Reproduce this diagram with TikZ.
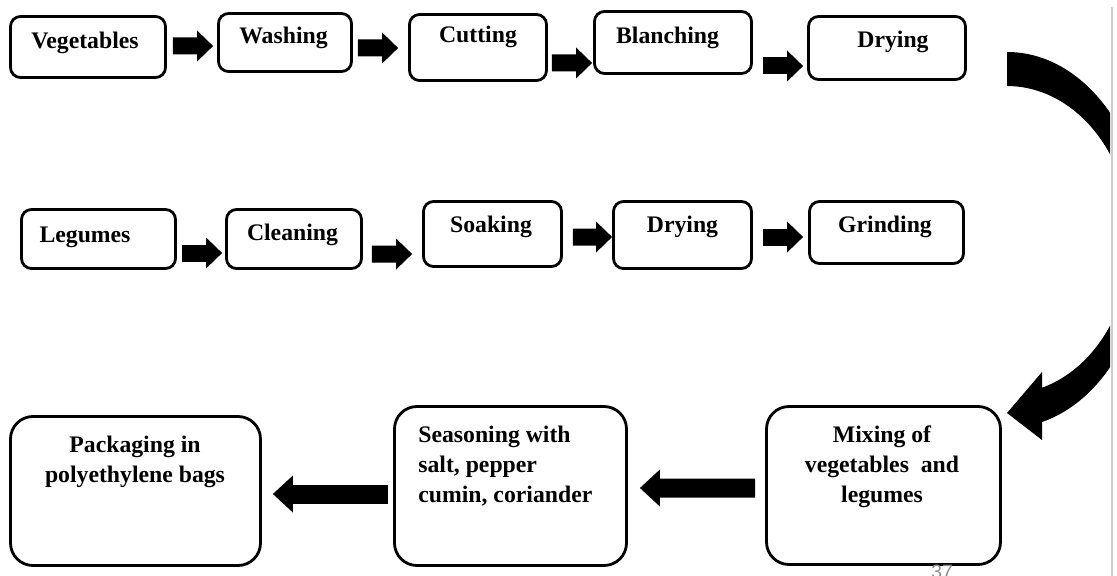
\documentclass[tikz,border=0pt]{standalone}
\usepackage{fontspec}
\setmainfont{Liberation Serif}
\newfontfamily\pagefont{Liberation Sans}
\usepackage{tikz}
\usetikzlibrary{arrows.meta, calc, positioning}
\definecolor{pagegray}{RGB}{205,205,205}
\definecolor{numgray}{RGB}{140,140,140}

\begin{document}
\begin{tikzpicture}[
    box/.style={draw, rectangle, rounded corners=0.2cm, line width=1.6pt, fill=white},
    bigbox/.style={box, rounded corners=0.45cm},
    lbl/.style={font=\bfseries\fontsize{13.5}{17}\selectfont, inner sep=0pt},
    flow/.style={line width=0.34cm, -{Triangle[length=0.32cm, width=0.62cm, line width=0pt]}},
    bigflow/.style={line width=0.38cm, -{Triangle[length=0.40cm, width=0.74cm, line width=0pt]}}
]
    \useasboundingbox (0,0) rectangle (22.34,-11.52);
    \clip (0,0) rectangle (22.34,-11.52);

    % Vegetables line
    \node (veg) [box, minimum width=3.10cm, minimum height=1.22cm] at (1.76,-0.94) {};
    \node (wash) [box, minimum width=2.66cm, minimum height=1.16cm] at (5.70,-0.85) {};
    \node (cut) [box, minimum width=2.74cm, minimum height=1.32cm] at (9.56,-0.95) {};
    \node (blanch) [box, minimum width=3.14cm, minimum height=1.24cm] at (13.46,-0.85) {};
    \node (dry1) [box, minimum width=3.14cm, minimum height=1.26cm] at (17.74,-0.96) {};
    \node (veg-t) [lbl] at (1.70,-0.86) {Vegetables};
    \node (wash-t) [lbl] at (5.67,-0.76) {Washing};
    \node (cut-t) [lbl] at (9.56,-0.74) {Cutting};
    \node (blanch-t) [lbl] at (13.35,-0.76) {Blanching};
    \node (dry1-t) [lbl] at (17.86,-0.84) {Drying};

    % Legumes line
    \node (leg) [box, minimum width=3.08cm, minimum height=1.18cm] at (1.97,-4.78) {};
    \node (clean) [box, minimum width=2.70cm, minimum height=1.18cm] at (5.88,-4.78) {};
    \node (soak) [box, minimum width=2.76cm, minimum height=1.30cm] at (9.85,-4.68) {};
    \node (dry2) [box, minimum width=2.76cm, minimum height=1.34cm] at (13.65,-4.70) {};
    \node (grind) [box, minimum width=3.08cm, minimum height=1.24cm] at (17.73,-4.65) {};
    \node (leg-t) [lbl] at (1.70,-4.74) {Legumes};
    \node (clean-t) [lbl] at (5.85,-4.70) {Cleaning};
    \node (soak-t) [lbl] at (9.82,-4.54) {Soaking};
    \node (dry2-t) [lbl] at (13.65,-4.54) {Drying};
    \node (grind-t) [lbl] at (17.70,-4.54) {Grinding};

    % Final steps
    \node (pack) [bigbox, minimum width=5.00cm, minimum height=2.98cm] at (2.71,-9.82) {};
    \node (season) [bigbox, minimum width=4.64cm, minimum height=3.18cm] at (10.21,-9.72) {};
    \node (mix) [bigbox, minimum width=4.68cm, minimum height=3.16cm] at (17.67,-9.71) {};
    \node (pack-t) [lbl, align=center] at (2.70,-9.24) {Packaging in\\polyethylene bags};
    \node (season-t) [lbl, align=left, anchor=west] at (8.36,-9.32) {Seasoning with\\salt, pepper\\cumin, coriander};
    \node (mix-t) [lbl, align=center] at (17.64,-9.34) {Mixing of\\vegetables\ \ and\\legumes};

    % Arrows
    \draw[flow] ($(veg.east)+(0.12,0.02)$) -- ($(wash.west)+(-0.08,-0.07)$);
    \draw[flow] ($(wash.east)+(0.10,-0.11)$) -- ($(cut.west)+(-0.20,-0.01)$);
    \draw[flow] ($(cut.east)+(0.08,-0.31)$) -- ($(blanch.west)+(-0.02,-0.41)$);
    \draw[flow] ($(blanch.east)+(0.20,-0.47)$) -- ($(dry1.west)+(-0.08,-0.36)$);
    \draw[flow] ($(leg.east)+(0.10,-0.28)$) -- ($(clean.west)+(-0.06,-0.28)$);
    \draw[flow] ($(clean.east)+(0.18,-0.30)$) -- ($(soak.west)+(-0.20,-0.40)$);
    \draw[flow] ($(soak.east)+(0.20,-0.06)$) -- ($(dry2.west)+(0,-0.04)$);
    \draw[flow] ($(dry2.east)+(0.20,-0.04)$) -- ($(grind.west)+(-0.10,-0.09)$);
    \draw[bigflow] ($(mix.west)+(-0.20,-0.05)$) -- ($(season.east)+(0.24,-0.04)$);
    \draw[bigflow] ($(season.west)+(-0.10,-0.16)$) -- ($(pack.east)+(0.22,-0.06)$);

    % Curved arrow, cut off by the page edge
    \begin{scope}
        \clip (0,0) rectangle (22.20,-11.52);
        \fill (20.14,-1.04) arc[start angle=90, end angle=-75.5, x radius=2.80cm, y radius=3.76cm]
            -- (20.84,-8.80) -- (20.14,-8.26) -- (20.84,-7.44) -- (20.84,-7.755)
            arc[start angle=-73.6, end angle=90, x radius=2.48cm, y radius=3.08cm] -- cycle;
    \end{scope}

    % page edge and page number
    \draw[pagegray, line width=0.03cm] (22.24,-0.14) -- (22.24,-11.52);
    \node (pagenum) [anchor=north, inner sep=0pt, text=numgray, font=\pagefont\fontsize{11}{13}\selectfont] at (18.84,-11.30) {37};
\end{tikzpicture}
\end{document}
